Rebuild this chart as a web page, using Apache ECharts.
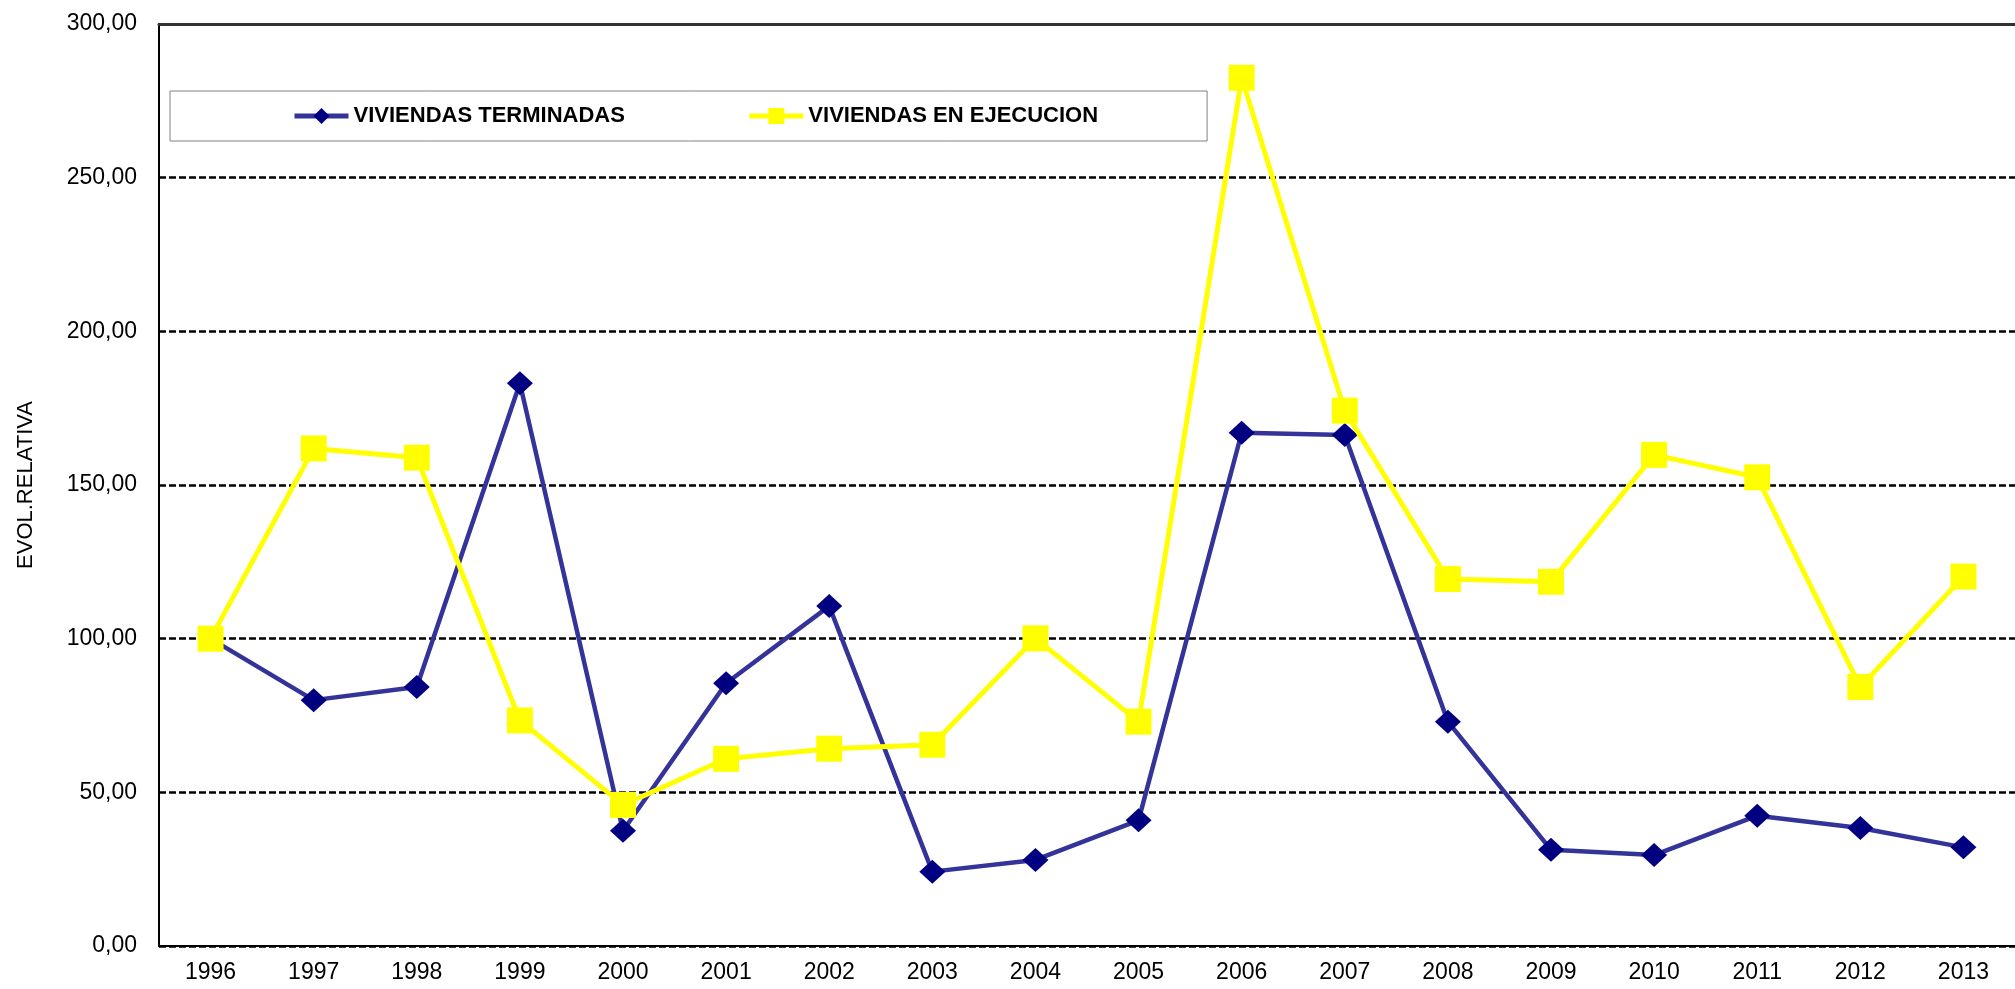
<!DOCTYPE html>
<html>
<head>
<meta charset="utf-8">
<script src="https://cdn.jsdelivr.net/npm/echarts@6.0.0/dist/echarts.min.js"></script>
<style>
  html, body { margin: 0; padding: 0; background: #fff; }
  #chart { width: 2015px; height: 989px; }
</style>
</head>
<body>
<div id="chart"></div>
<script>
(function () {
  'use strict';

  // Years on the x axis
  var years = ['1996', '1997', '1998', '1999', '2000', '2001', '2002', '2003', '2004',
    '2005', '2006', '2007', '2008', '2009', '2010', '2011', '2012', '2013'];

  // Relative evolution (1996 = 100)
  var terminadas = [100.0, 80.0, 84.3, 183.1, 37.5, 85.5, 110.6, 24.2, 28.0,
    40.9, 167.0, 166.3, 73.0, 31.3, 29.6, 42.4, 38.4, 32.1];
  var ejecucion = [100.0, 161.9, 158.9, 73.4, 45.9, 60.9, 64.2, 65.5, 100.1,
    73.0, 282.5, 174.2, 119.4, 118.5, 159.8, 152.5, 84.3, 120.2];

  var seriesNames = ['VIVIENDAS TERMINADAS', 'VIVIENDAS EN EJECUCION'];

  var FONT = '"Liberation Sans", Arial, sans-serif';

  var chart = echarts.init(document.getElementById('chart'));

  chart.setOption({
    backgroundColor: '#fff',
    animation: false,
    textStyle: { fontFamily: FONT, color: '#000' },
    grid: { left: 159, right: 0, top: 24, bottom: 43, containLabel: false },
    legend: {
      data: seriesNames,
      left: 170,
      top: 91,
      orient: 'horizontal',
      padding: [14, 109, 14, 122],
      itemGap: 122,
      itemWidth: 54,
      itemHeight: 20,
      borderColor: '#808080',
      borderWidth: 1,
      backgroundColor: '#fff',
      lineStyle: { width: 5 },
      textStyle: { fontFamily: FONT, fontSize: 22, fontWeight: 'bold', color: '#000' }
    },
    xAxis: [{
      type: 'category',
      data: years,
      boundaryGap: true,
      axisLine: { lineStyle: { color: '#000', width: 2 } },
      axisTick: { show: false },
      axisLabel: { fontFamily: FONT, fontSize: 23, color: '#000', margin: 15 }
    }, {
      // top border of the plot area
      type: 'category',
      data: years,
      position: 'top',
      axisLine: { lineStyle: { color: '#333', width: 3 } },
      axisTick: { show: false },
      axisLabel: { show: false }
    }],
    yAxis: {
      type: 'value',
      min: 0,
      max: 300,
      interval: 50,
      name: 'EVOL.RELATIVA',
      nameLocation: 'middle',
      nameGap: 122,
      nameTextStyle: { fontFamily: FONT, fontSize: 22, color: '#000' },
      axisLine: { show: true, lineStyle: { color: '#000', width: 2 } },
      axisTick: { show: false },
      axisLabel: {
        fontFamily: FONT, fontSize: 23, color: '#000', margin: 22,
        formatter: function (v) { return v.toFixed(2).replace('.', ','); }
      },
      splitLine: { show: true, lineStyle: { color: '#000', width: 2.5, type: [7, 3] } }
    },
    series: [{
      name: seriesNames[0],
      type: 'line',
      data: terminadas,
      symbol: 'diamond',
      symbolSize: [26, 24],
      itemStyle: { color: '#000080' },
      lineStyle: { color: '#333399', width: 4.5 },
      z: 2
    }, {
      name: seriesNames[1],
      type: 'line',
      data: ejecucion,
      symbol: 'rect',
      symbolSize: 26,
      itemStyle: { color: '#FFFF00' },
      lineStyle: { color: '#FFFF00', width: 5 },
      z: 3
    }]
  });
})();
</script>
</body>
</html>
